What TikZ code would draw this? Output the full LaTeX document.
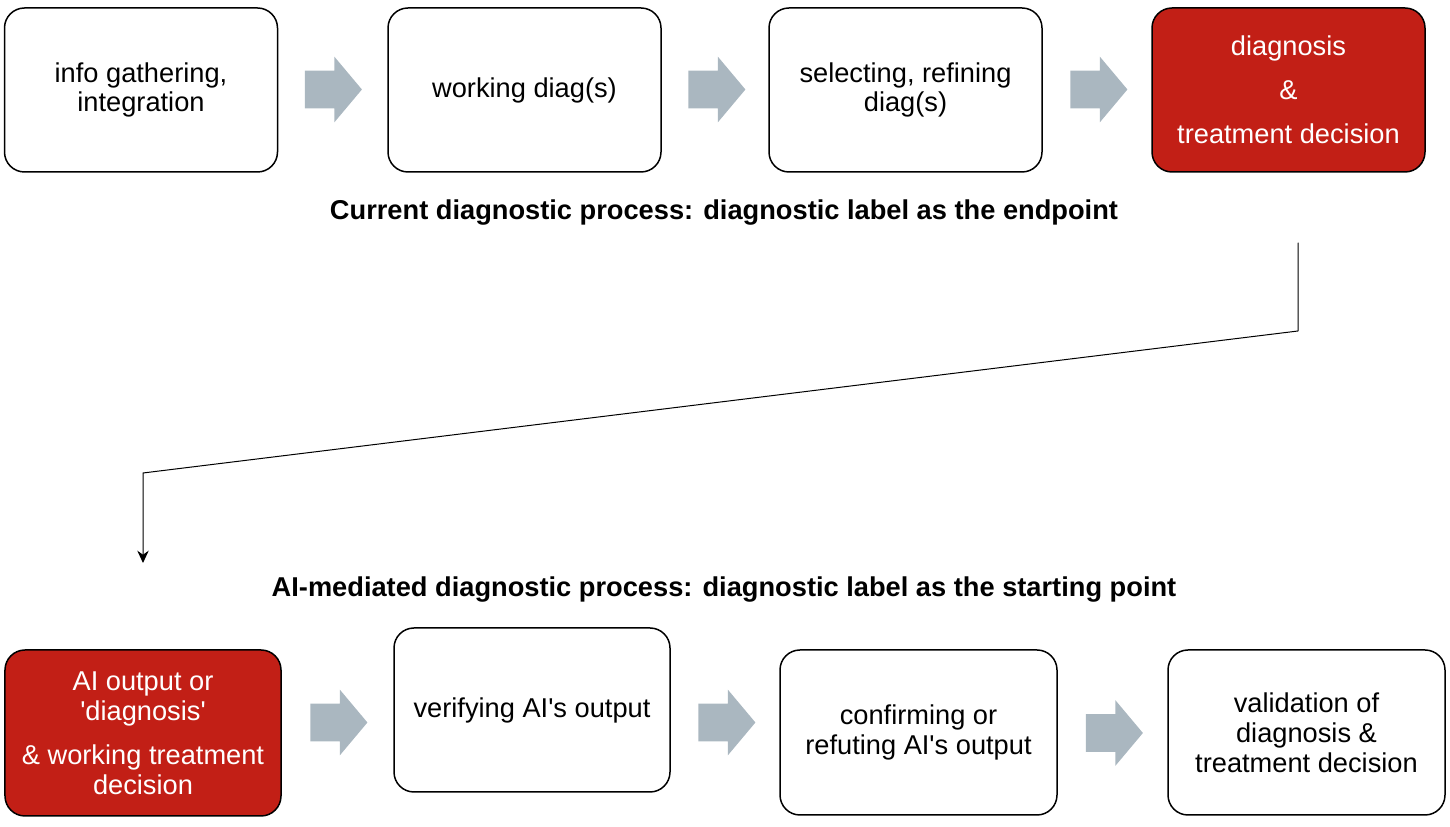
\documentclass[tikz,border=0pt]{standalone}
\usepackage{fontspec}
\setmainfont{Liberation Sans}
\usetikzlibrary{shapes.arrows, arrows.meta}
\definecolor{boxred}{HTML}{C21F16}
\definecolor{arrowgray}{HTML}{AAB7C0}

\begin{document}
\begin{tikzpicture}[font=\fontsize{15.5}{17}\selectfont, line join=round, line cap=round, >={Stealth[length=7pt,width=6.5pt]},
	box/.style={rectangle, rounded corners=.4cm, line width=.3mm, draw=black, align=center, anchor=center, minimum width=5.46cm, minimum height=3.28cm},
	redbox/.style={box, fill=boxred, text=white},
	flow/.style={single arrow, fill=arrowgray, draw=none, inner xsep=0pt, inner ysep=.37cm, minimum height=1.14cm, single arrow head extend=.28cm, single arrow tip angle=100},
	heading/.style={font=\fontsize{15.5}{17}\selectfont\bfseries}]
			%			\draw[gray,xstep = 1, ystep = 1] (0,0) grid (29,16.54);
			\useasboundingbox (0,0) rectangle (29,16.54);
			\path
			(25.96,11.68) coordinate (S)
			(25.96,9.92) coordinate (K1)
			(2.86,7.08) coordinate (K2)
			(2.86,5.28) coordinate (E)
			;
			% current process
			\node[box] (B1) at (2.82,14.74) {info gathering,\\integration};
			\node[box] (B2) at (10.49,14.74) {working diag(s)};
			\node[box] (B3) at (18.11,14.74) {selecting, refining\\diag(s)};
			\node[redbox] (B4) at (25.77,14.74) {diagnosis\\[8pt]\&\\[8pt]treatment decision};
			\node[flow] (F1) at (6.51,14.75) {};
			\node[flow] (F2) at (14.18,14.75) {};
			\node[flow] (F3) at (21.82,14.75) {};
			\node[heading] (T1) at (14.48,12.28) {Current diagnostic process: diagnostic label as the endpoint};
			
			\draw[->, line width=.2mm] (S)--(K1)--(K2)--(E);
			
			% AI-mediated process
			\node[heading] (T2) at (14.48,4.74) {AI-mediated diagnostic process: diagnostic label as the starting point};
			\node[redbox, minimum width=5.52cm, minimum height=3.32cm] (C1) at (2.86,1.88) {AI output or\\\textquotesingle diagnosis\textquotesingle\\[8pt]\& working treatment\\decision};
			\node[box, minimum width=5.52cm] (C2) at (10.64,2.34) {verifying AI\textquotesingle s output};
			\node[box, minimum width=5.54cm, minimum height=3.3cm] (C3) at (18.37,1.89) {confirming or\\refuting AI\textquotesingle s output};
			\node[box, minimum width=5.54cm, minimum height=3.3cm] (C4) at (26.13,1.89) {validation of\\diagnosis \&\\treatment decision};
			\node[flow] (G1) at (6.62,2.09) {};
			\node[flow] (G2) at (14.38,2.09) {};
			\node[flow] (G3) at (22.13,1.88) {};
		\end{tikzpicture}
\end{document}
